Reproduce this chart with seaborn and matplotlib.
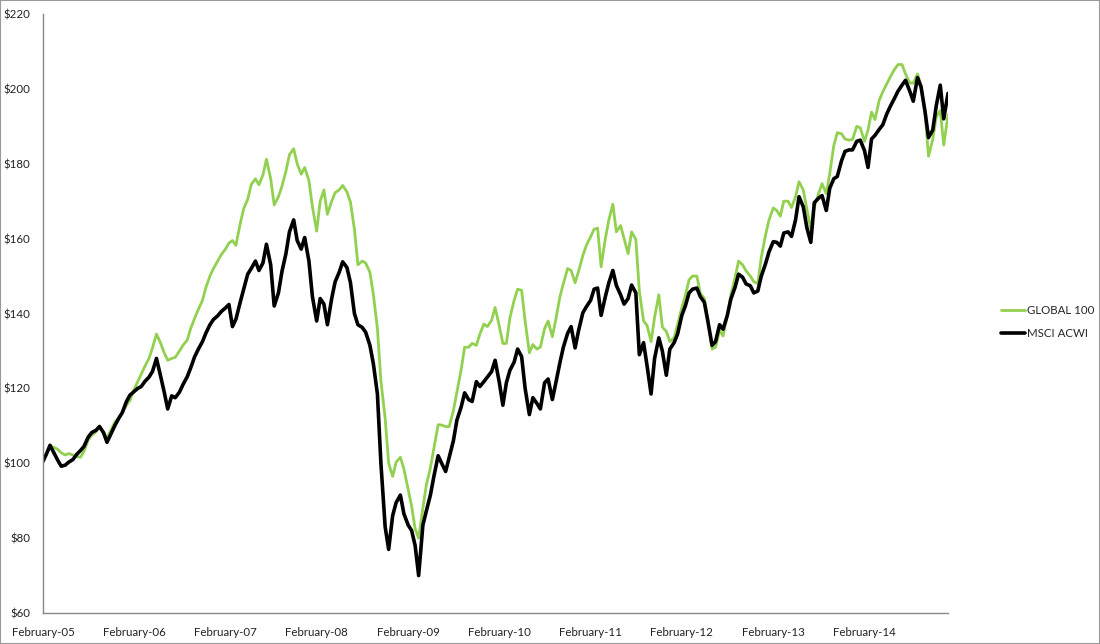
import pandas as pd
import numpy as np
import matplotlib
matplotlib.use('Agg')
import matplotlib.pyplot as plt
import matplotlib.dates as mdates
from matplotlib.patches import Rectangle
import seaborn as sns

sns.set_style("white")
plt.rcParams['font.family'] = ['Lato', 'DejaVu Sans']

GREEN = "#92D050"
BLACK = "#000000"
AXIS_GREY = "#888888"

# semi-monthly readings, Feb 2005 -> Jan 2015 (growth of $100)
start_date = "2005-02-01"
n_points = 239

global_100 = [
    101.5, 102.5, 104.5, 104.3, 103.7, 102.8, 102.2, 102.6, 102.2, 101.8, 101.6, 103.2,
    106.2, 107.5, 108.4, 110.0, 108.2, 106.7, 109.0, 111.0, 112.0, 113.5, 115.5, 116.8,
    119.8, 121.8, 123.8, 125.8, 128.0, 130.8, 134.5, 132.5, 129.5, 127.5, 128.0, 128.3,
    130.0, 131.5, 132.9, 136.0, 138.8, 141.0, 143.5, 147.0, 150.0, 152.0, 154.0, 155.7,
    157.2, 158.8, 159.5, 158.2, 164.0, 168.0, 170.5, 174.4, 176.0, 174.4, 177.0, 181.2,
    176.0, 169.0, 171.2, 174.0, 178.0, 182.4, 184.0, 180.0, 177.2, 179.0, 175.5, 168.5,
    162.0, 170.0, 173.0, 166.5, 170.0, 172.3, 173.0, 174.2, 172.5, 169.8, 162.5, 153.0,
    154.0, 153.5, 151.0, 145.0, 136.0, 122.0, 112.0, 100.0, 96.5, 100.3, 101.6, 98.5,
    93.0, 88.5, 82.5, 80.0, 88.0, 94.3, 98.8, 104.0, 110.3, 110.2, 109.8, 109.8,
    114.0, 119.0, 125.0, 131.0, 131.0, 132.0, 131.5, 134.5, 137.2, 136.5, 138.2, 141.6,
    136.5, 132.0, 132.0, 138.8, 143.5, 146.5, 146.2, 138.0, 129.5, 131.7, 130.5, 131.0,
    136.0, 138.0, 133.8, 138.5, 144.4, 148.0, 152.0, 151.5, 148.2, 151.3, 155.5, 158.2,
    160.5, 162.5, 162.8, 152.5, 160.0, 165.0, 169.2, 161.8, 163.5, 160.0, 156.0, 161.8,
    159.8, 146.0, 138.0, 136.8, 132.5, 139.0, 145.0, 136.4, 135.2, 132.5, 133.5, 137.0,
    141.5, 144.8, 149.0, 150.0, 150.0, 145.4, 144.0, 138.5, 130.5, 131.0, 135.5, 134.0,
    139.5, 145.0, 149.5, 154.0, 153.0, 151.4, 150.0, 148.5, 148.0, 155.0, 161.0, 165.0,
    168.2, 167.5, 166.0, 170.0, 170.0, 168.3, 171.2, 175.2, 173.0, 168.0, 162.5, 168.5,
    172.0, 174.7, 172.0, 177.5, 184.8, 188.3, 188.0, 186.6, 186.3, 186.5, 190.0, 189.6,
    186.0, 189.0, 193.8, 191.8, 197.0, 199.2, 201.3, 203.2, 205.2, 206.5, 206.5, 204.0,
    201.6, 201.5, 204.0, 200.8, 193.5, 182.0, 186.5, 192.5, 194.2, 185.0, 193.0,
]

msci_acwi = [
    100.5, 102.5, 104.8, 103.0, 100.8, 99.2, 99.5, 100.3, 101.0, 102.3, 103.4, 104.5,
    107.0, 108.2, 108.8, 109.8, 108.2, 105.6, 108.0, 110.0, 112.0, 113.5, 116.5, 118.2,
    119.2, 120.0, 120.5, 121.8, 123.0, 124.5, 128.0, 124.0, 119.0, 114.5, 118.0, 117.5,
    119.0, 121.0, 123.1, 125.5, 128.5, 130.4, 132.5, 134.8, 137.0, 138.4, 139.4, 140.5,
    141.5, 142.4, 136.5, 138.5, 143.0, 146.5, 150.5, 152.0, 154.0, 151.5, 153.5, 158.5,
    153.0, 142.0, 145.5, 151.2, 156.0, 161.8, 165.0, 159.5, 157.2, 160.3, 154.0, 144.5,
    138.0, 144.0, 142.5, 137.0, 144.0, 148.5, 151.0, 153.8, 152.3, 148.3, 140.0, 137.0,
    136.3, 135.0, 131.5, 126.5, 118.5, 100.0, 83.0, 77.0, 86.0, 89.5, 91.5, 86.5,
    83.5, 82.0, 78.0, 70.0, 83.5, 87.3, 91.5, 96.5, 102.0, 100.0, 97.8, 101.5,
    106.0, 111.5, 115.0, 118.8, 117.0, 116.5, 121.8, 120.5, 121.8, 123.0, 124.5, 127.5,
    121.5, 115.5, 121.5, 124.8, 127.0, 130.5, 128.5, 120.0, 113.0, 117.5, 116.0, 114.5,
    121.5, 122.5, 117.0, 121.5, 126.8, 131.0, 134.7, 136.5, 130.8, 135.5, 140.2, 141.8,
    143.5, 146.5, 146.8, 139.5, 144.5, 148.2, 151.5, 147.5, 145.0, 142.5, 144.0, 147.6,
    145.5, 129.0, 132.2, 126.0, 118.5, 128.0, 133.5, 130.0, 123.5, 130.5, 132.2, 134.5,
    139.5, 142.0, 145.5, 146.5, 146.8, 144.5, 143.0, 138.0, 131.5, 132.5, 137.0, 135.8,
    139.5, 143.8, 147.0, 150.5, 149.7, 147.9, 147.4, 145.5, 146.0, 150.0, 153.3, 156.5,
    159.2, 159.0, 158.0, 161.5, 161.8, 160.6, 165.0, 171.2, 168.5, 163.0, 159.0, 169.6,
    170.8, 171.5, 167.5, 173.5, 176.0, 176.6, 180.8, 183.3, 183.7, 183.7, 186.0, 186.3,
    183.5, 179.0, 186.6, 187.6, 189.2, 190.4, 193.3, 195.3, 197.5, 199.4, 201.0, 202.3,
    199.4, 196.7, 203.0, 200.6, 194.0, 187.0, 189.0, 195.5, 201.0, 192.0, 198.8,
]

y_ticks = [60, 80, 100, 120, 140, 160, 180, 200, 220]
x_tick_years = list(range(2005, 2015))

dates = pd.date_range(start_date, periods=n_points, freq="SMS")
df = pd.DataFrame({"Date": dates, "GLOBAL 100": global_100, "MSCI ACWI": msci_acwi})

fig = plt.figure(figsize=(11, 6.44), dpi=100)
ax = fig.add_axes([43 / 1100, 1 - 613 / 644, (948 - 43) / 1100, (613 - 14) / 644])

sns.lineplot(data=df, x="Date", y="GLOBAL 100", ax=ax, color=GREEN, linewidth=2.0, label="GLOBAL 100")
sns.lineplot(data=df, x="Date", y="MSCI ACWI", ax=ax, color=BLACK, linewidth=2.6, label="MSCI ACWI")

ax.set_xlim(dates[0], dates[-1])
ax.set_ylim(60, 220)
ax.set_yticks(y_ticks)
ax.set_yticklabels([f"${v}" for v in y_ticks])
ax.set_xticks([pd.Timestamp(f"{y}-02-01") for y in x_tick_years])
ax.xaxis.set_major_formatter(mdates.DateFormatter("%B-%y"))
ax.set_xlabel(""); ax.set_ylabel("")

for side in ["top", "right"]:
    ax.spines[side].set_visible(False)
for side in ["left", "bottom"]:
    ax.spines[side].set_color(AXIS_GREY)
    ax.spines[side].set_linewidth(1.0)
ax.tick_params(axis="both", direction="out", length=4, width=1, color=AXIS_GREY,
               labelsize=8.3, labelcolor="#222222")
ax.tick_params(axis="y", pad=5)
ax.tick_params(axis="x", pad=6)
ax.grid(False)

ax.get_legend().remove()
fig.legend(loc="center left", bbox_to_anchor=(0.905, 0.5), frameon=False,
           fontsize=8.3, handlelength=2.1, handletextpad=0.15, labelspacing=1.0,
           borderpad=0)

fig.patches.append(Rectangle((0, 0), 1, 1, transform=fig.transFigure, fill=False,
                             edgecolor="#999999", linewidth=1.5))

plt.savefig("out.png", dpi=100)
plt.close()
